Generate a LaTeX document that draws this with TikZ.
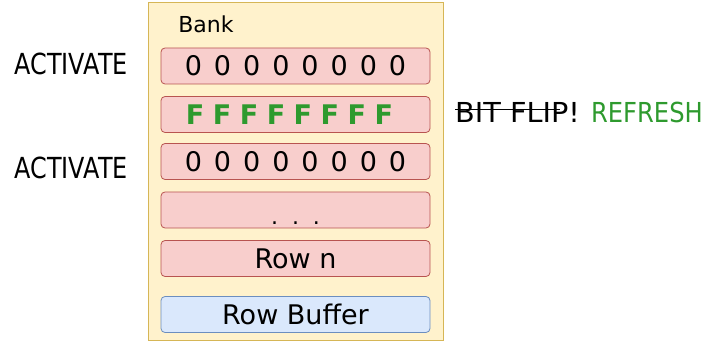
\documentclass[tikz,border=0pt]{standalone}
\usepackage{fontspec}
\setmainfont{DejaVu Sans}
\definecolor{bankfill}{HTML}{FFF2CC}
\definecolor{bankline}{HTML}{D6B656}
\definecolor{rowfill}{HTML}{F8CECC}
\definecolor{rowline}{HTML}{B85450}
\definecolor{buffill}{HTML}{DAE8FC}
\definecolor{bufline}{HTML}{6C8EBF}
\definecolor{okgreen}{HTML}{2E9A2E}
% eight equal cells spaced across a row
\newcommand{\cells}[2]{#1\hspace{#2}#1\hspace{#2}#1\hspace{#2}#1\hspace{#2}#1\hspace{#2}#1\hspace{#2}#1\hspace{#2}#1}
\tikzset{
  bankbox/.style={draw=bankline, fill=bankfill, line width=0.8pt},
  rowbox/.style={draw=rowline, fill=rowfill, rounded corners=4pt, line width=0.8pt,
    minimum width=269pt, minimum height=36pt, inner sep=0pt, font=\fontsize{27}{30}\selectfont},
  bufbox/.style={rowbox, draw=bufline, fill=buffill},
  sidelabel/.style={inner sep=0pt, font=\fontsize{29}{32}\selectfont},
  notelabel/.style={inner sep=0pt, font=\fontsize{27.5}{30}\selectfont},
}
\begin{document}
\begin{tikzpicture}[x=1pt,y=-1pt]
\useasboundingbox (0,0) rectangle (710,342);
% the bank
\draw[bankbox] (148,2) rectangle (443,340);
\node[inner sep=0pt, font=\fontsize{22}{26}\selectfont] (bank) at (206,24) {Bank};
% rows
\node[rowbox] (r1) at (295.5,66) {\cells{0}{12pt}};
\node[rowbox, text=okgreen, font=\fontsize{27}{30}\bfseries\selectfont] (r2) at (295.5,114.5) {\cells{F}{8.5pt}\kern12pt\relax};
\node[rowbox] (r3) at (295.5,161.5) {\cells{0}{12pt}};
\node[rowbox] (r4) at (295.5,210) {};
\node[inner sep=0pt, anchor=base, font=\fontsize{22}{26}\selectfont] (dots) at (295.5,225) {.\hspace{14pt}.\hspace{14pt}.};
\node[rowbox] (rn) at (295.5,258.5) {Row n};
\node[bufbox] (rb) at (295.5,314.5) {Row Buffer};
% labels outside the bank
\node[sidelabel, anchor=east] (a1) at (128,64) {\scalebox{0.824}[1]{ACTIVATE}};
\node[sidelabel, anchor=east] (a3) at (128,168) {\scalebox{0.824}[1]{ACTIVATE}};
\node[notelabel, anchor=west] (bf) at (455,112) {\scalebox{1.045}[1]{BIT FLIP!}};
\node[notelabel, anchor=east, text=okgreen] (rf) at (703,112) {\scalebox{0.88}[1]{REFRESH}};
% strike-through over the flipped bits
\coordinate (sl) at ([yshift=2.5pt]bf.west);
\coordinate (sr) at ([yshift=2.5pt,xshift=-20pt]bf.east);
\draw[line width=1.5pt] (sl) -- (sr);
\end{tikzpicture}
\end{document}
